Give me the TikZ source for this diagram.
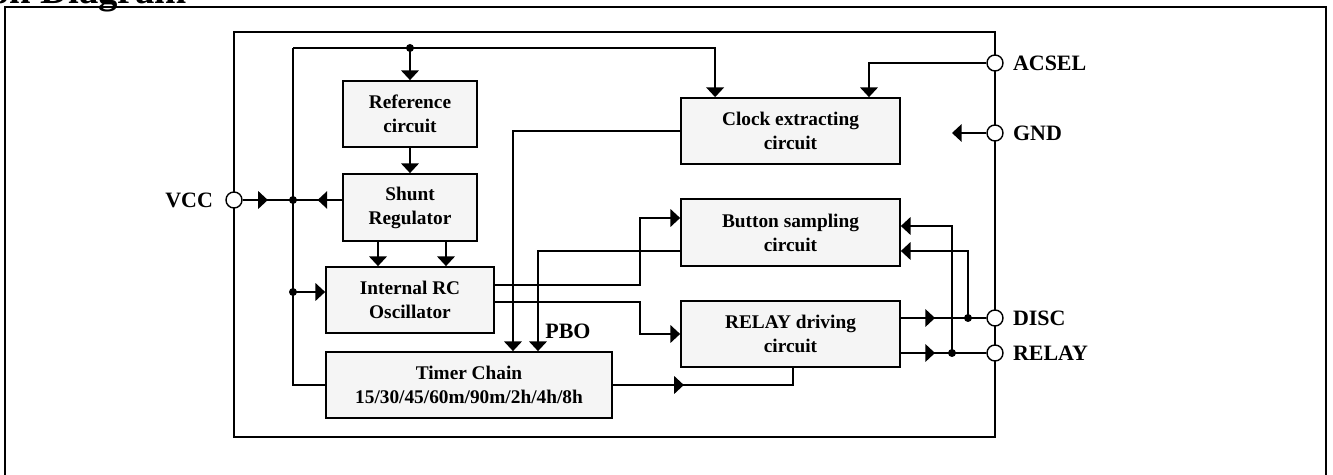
\documentclass[tikz,border=0pt]{standalone}
\usepackage{fontspec}
\setmainfont{Liberation Serif}
\usetikzlibrary{arrows.meta,decorations.markings}

\begin{document}
\begin{tikzpicture}[x=0.02cm,y=-0.02cm,
  block/.style={draw,line width=1pt,fill=black!4,align=center,inner sep=0pt,
    font=\fontsize{11}{13.7}\selectfont\bfseries},
  pinring/.style={draw,circle,fill=white,minimum size=0.32cm,inner sep=0pt,line width=0.8pt},
  pinlabel/.style={inner sep=0pt,font=\fontsize{12.5}{14}\selectfont\bfseries},
  junction/.style={fill,circle,minimum size=0.16cm,inner sep=0pt},
  wire/.style={line width=0.9pt},
  arr/.style={wire,-{Triangle[length=5.5pt,width=10pt]}},
  midtip/.style={wire,postaction={decorate},decoration={markings,
    mark=at position #1 with {\arrow{Triangle[length=5.5pt,width=10pt]}}}}]
\useasboundingbox (0,0) rectangle (1333,475);

% outer frame and title
\draw[line width=1.4pt] (5,490) -- (5,7) -- (1326,7) -- (1326,490);
\node[anchor=base east,inner sep=0pt,font=\fontsize{22}{24}\selectfont\bfseries] (title) at (187,4) {on Diagram};

% chip outline
\draw[line width=1pt] (234,32) rectangle (995,437);

% blocks
\node[block,minimum width=2.68cm,minimum height=1.32cm] (ref) at (410,114) {Reference\\circuit};
\node[block,minimum width=2.68cm,minimum height=1.34cm] (shunt) at (410,207.5) {Shunt\\Regulator};
\node[block,minimum width=3.36cm,minimum height=1.32cm] (rc) at (410,300) {Internal RC\\Oscillator};
\node[block,minimum width=5.72cm,minimum height=1.32cm] (timer) at (469,385) {Timer Chain\\15/30/45/60m/90m/2h/4h/8h};
\node[block,minimum width=4.38cm,minimum height=1.32cm] (clock) at (790.5,131) {Clock extracting\\circuit};
\node[block,minimum width=4.38cm,minimum height=1.34cm] (button) at (790.5,232.5) {Button sampling\\circuit};
\node[block,minimum width=4.38cm,minimum height=1.32cm] (relay) at (790.5,334) {RELAY driving\\circuit};

% junctions
\coordinate (bustop) at (293,48);
\coordinate (refdot) at (410,48);
\coordinate (vccdot) at (293,200);
\coordinate (rcdot) at (293,292);
\coordinate (discdot) at (968,318);
\coordinate (reldot) at (952,353);
\coordinate (gndend) at (952,133);

% supply bus
\draw[wire] (bustop) |- (timer.west);
\draw[arr] (bustop) -| ([xshift=0.7cm]clock.north west);
\draw[arr] (refdot) -- (ref.north);
\draw[arr] (ref.south) -- (shunt.north);
\draw[arr] ([xshift=-0.64cm]shunt.south) -- ([xshift=-0.64cm]rc.north);
\draw[arr] ([xshift=0.72cm]shunt.south) -- ([xshift=0.72cm]rc.north);
\draw[arr] (rcdot) -- (rcdot -| rc.west);

% oscillator and timer
\draw[arr] ([yshift=0.3cm]rc.east) -- (640,285) |- ([yshift=0.29cm]button.west);
\draw[arr] ([yshift=-0.04cm]rc.east) -- (640,302) |- (relay.west);
\draw[arr] (clock.west) -| ([xshift=0.88cm]timer.north);
\draw[arr] ([yshift=-0.37cm]button.west) -| ([xshift=1.38cm]timer.north);
\node[pinlabel] (pbo) at (568,331) {PBO};
\draw[midtip=0.36] (timer.east) -| ([xshift=0.05cm]relay.south);

% pins
\node[pinring] (vcc) at (234,200) {};
\node[pinring] (acsel) at (995,63) {};
\node[pinring] (gnd) at (995,133) {};
\node[pinring] (disc) at (995,318) {};
\node[pinring] (relaypin) at (995,353) {};
\node[pinlabel,anchor=east] (vcclabel) at ([xshift=-0.24cm]vcc.west) {VCC};
\node[pinlabel,anchor=west] (acsellabel) at ([xshift=0.18cm]acsel.east) {ACSEL};
\node[pinlabel,anchor=west] (gndlabel) at ([xshift=0.18cm]gnd.east) {GND};
\node[pinlabel,anchor=west] (disclabel) at ([xshift=0.18cm]disc.east) {DISC};
\node[pinlabel,anchor=west] (relaylabel) at ([xshift=0.18cm]relaypin.east) {RELAY};

\draw[midtip=0.5] (vcc) -- (vccdot);
\draw[midtip=0.5] (vccdot -| shunt.west) -- (vccdot);
\draw[arr] (acsel) -| ([xshift=1.57cm]clock.north);
\draw[arr] (gnd) -- (gndend);
\draw[midtip=0.4] ([yshift=0.32cm]relay.east) -- (disc);
\draw[midtip=0.4] ([yshift=-0.38cm]relay.east) -- (relaypin);
\draw[arr] (discdot) |- ([yshift=-0.37cm]button.east);
\draw[arr] (reldot) |- ([yshift=0.13cm]button.east);

\node[junction] (j1) at (refdot) {};
\node[junction] (j2) at (vccdot) {};
\node[junction] (j3) at (rcdot) {};
\node[junction] (j4) at (discdot) {};
\node[junction] (j5) at (reldot) {};
\end{tikzpicture}
\end{document}
